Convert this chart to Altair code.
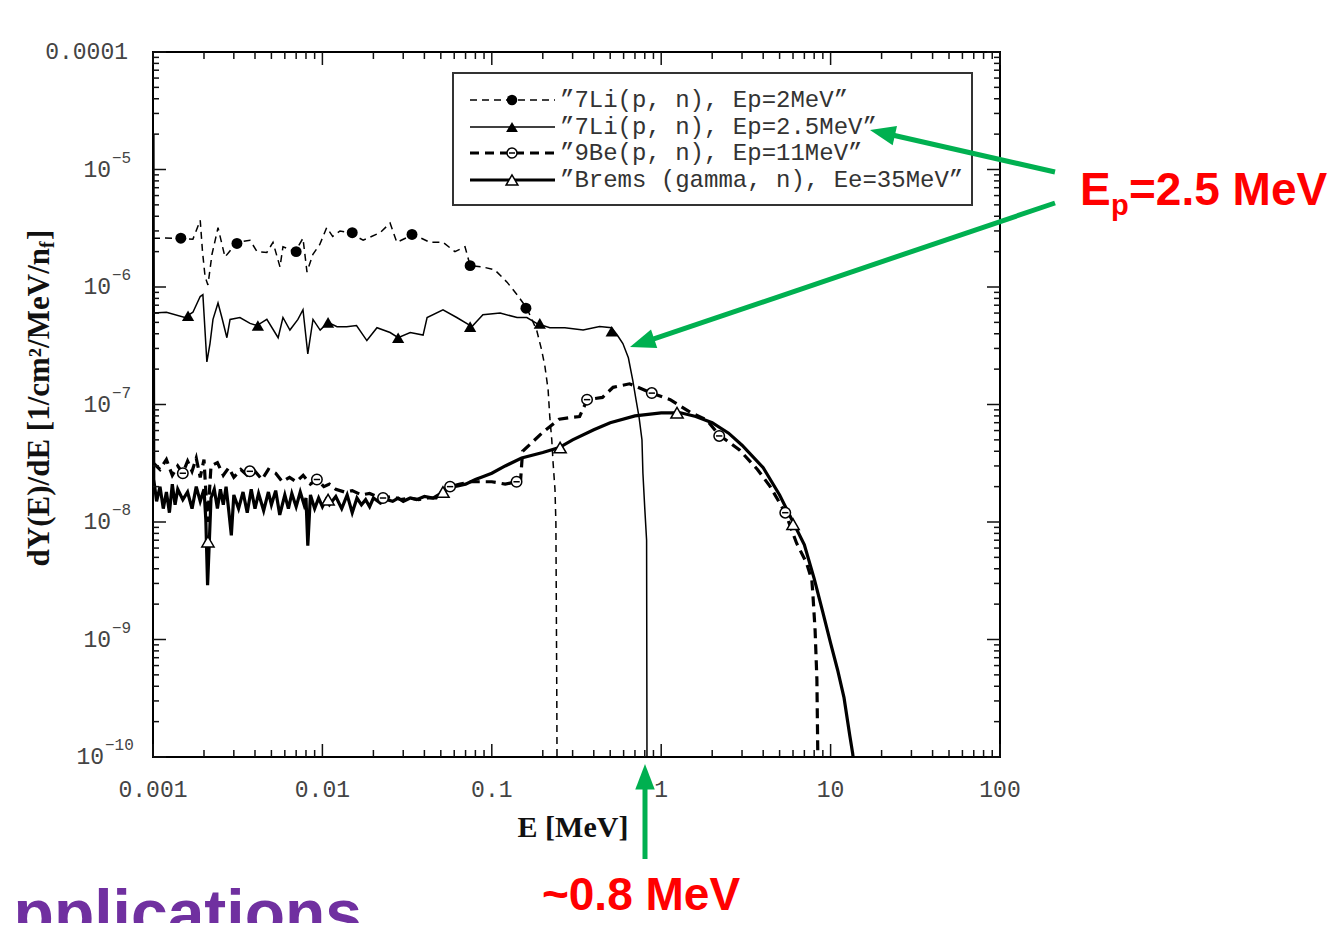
import altair as alt
import pandas as pd

# ---------------- data ----------------
series_names = [
    "”7Li(p, n), Ep=2MeV”",
    "”7Li(p, n), Ep=2.5MeV”",
    "”9Be(p, n), Ep=11MeV”",
    "”Brems (gamma, n), Ee=35MeV”",
]

li2 = [(0.001, 2.6e-6), (0.00118, 2.61e-6), (0.00144, 2.6e-6), (0.00172, 2.55e-6), (0.0019, 3.7e-6),
       (0.00196, 2.0e-6), (0.00203, 1.22e-6), (0.00211, 1.04e-6), (0.00223, 1.9e-6), (0.00242, 3.2e-6),
       (0.00266, 1.8e-6), (0.00313, 2.4e-6), (0.00374, 2.5e-6), (0.00411, 2.0e-6), (0.0047, 1.97e-6),
       (0.00511, 2.4e-6), (0.00562, 1.48e-6), (0.00585, 2.2e-6), (0.0069, 2.0e-6), (0.00768, 2.6e-6),
       (0.00811, 1.34e-6), (0.00879, 1.9e-6), (0.00965, 2.3e-6), (0.0106, 3.2e-6), (0.0115, 2.7e-6),
       (0.0127, 3.0e-6), (0.0145, 2.9e-6), (0.0174, 2.5e-6), (0.0219, 2.9e-6), (0.0251, 3.5e-6),
       (0.0275, 2.4e-6), (0.0344, 2.8e-6), (0.0431, 2.4e-6), (0.0515, 2.4e-6), (0.0606, 2.0e-6),
       (0.0695, 2.2e-6), (0.0745, 1.52e-6), (0.0886, 1.48e-6), (0.104, 1.4e-6), (0.123, 1.1e-6),
       (0.141, 8.6e-7), (0.161, 6.6e-7), (0.184, 4.3e-7), (0.197, 2.9e-7), (0.206, 2.1e-7),
       (0.215, 1.33e-7), (0.22, 7.8e-8), (0.226, 5.0e-8), (0.23, 3.2e-8), (0.236, 1.9e-8),
       (0.239, 9.8e-9), (0.242, 3e-10), (0.243, 5e-11)]
li2_markers = [(0.00146, 2.6e-6), (0.00313, 2.35e-6), (0.0070, 2.0e-6), (0.015, 2.9e-6),
               (0.0338, 2.8e-6), (0.0745, 1.52e-6), (0.159, 6.6e-7)]

li25 = [(0.001, 6.0e-7), (0.0012, 6.1e-7), (0.00154, 5.5e-7), (0.00172, 6.1e-7), (0.0019, 8.3e-7),
        (0.00197, 8.6e-7), (0.00208, 2.3e-7), (0.00217, 3.3e-7), (0.00226, 5.3e-7), (0.00242, 7.3e-7),
        (0.00255, 5.5e-7), (0.00273, 3.7e-7), (0.00285, 5.3e-7), (0.00326, 5.5e-7), (0.00374, 4.9e-7),
        (0.00411, 4.7e-7), (0.0047, 5.3e-7), (0.00548, 3.7e-7), (0.00585, 5.5e-7), (0.00643, 4.3e-7),
        (0.00717, 5.3e-7), (0.00768, 6.4e-7), (0.0082, 2.7e-7), (0.0088, 5.3e-7), (0.0097, 4.3e-7),
        (0.0108, 5.0e-7), (0.0122, 4.6e-7), (0.0139, 4.6e-7), (0.0159, 4.7e-7), (0.0183, 3.5e-7),
        (0.021, 4.5e-7), (0.0251, 4.1e-7), (0.028, 3.7e-7), (0.033, 4.1e-7), (0.0393, 3.9e-7),
        (0.0415, 5.5e-7), (0.0515, 6.4e-7), (0.0621, 5.5e-7), (0.0764, 4.6e-7), (0.0886, 5.8e-7),
        (0.112, 6.0e-7), (0.141, 5.5e-7), (0.161, 5.5e-7), (0.184, 4.9e-7), (0.22, 4.5e-7),
        (0.27, 4.5e-7), (0.346, 4.3e-7), (0.433, 4.6e-7), (0.51, 4.5e-7), (0.55, 3.9e-7),
        (0.594, 3.3e-7), (0.64, 2.5e-7), (0.68, 1.6e-7), (0.71, 1.1e-7), (0.74, 7.8e-8),
        (0.77, 5.0e-8), (0.78, 2.6e-8), (0.80, 1.3e-8), (0.82, 7e-9), (0.825, 5e-11)]
li25_markers = [(0.00161, 5.7e-7), (0.00416, 4.7e-7), (0.0108, 5.0e-7), (0.028, 3.7e-7),
                (0.0745, 4.6e-7), (0.192, 4.9e-7), (0.51, 4.2e-7)]

be9 = [(0.001, 3.2e-8), (0.0011, 2.8e-8), (0.0012, 3.4e-8), (0.0013, 2.5e-8), (0.0014, 3.0e-8),
       (0.0015, 2.6e-8), (0.0016, 3.3e-8), (0.0017, 2.7e-8), (0.0018, 3.5e-8), (0.0019, 2.4e-8),
       (0.002, 3.4e-8), (0.0021, 1.0e-8), (0.0022, 3.0e-8), (0.0024, 3.2e-8), (0.0026, 2.5e-8),
       (0.0028, 2.9e-8), (0.003, 2.4e-8), (0.0033, 2.8e-8), (0.0036, 2.5e-8), (0.004, 2.7e-8),
       (0.0044, 2.3e-8), (0.0048, 2.8e-8), (0.0053, 2.6e-8), (0.0058, 2.2e-8), (0.0064, 2.4e-8),
       (0.007, 2.2e-8), (0.0077, 2.5e-8), (0.0085, 2.1e-8), (0.0093, 2.3e-8), (0.0102, 2.0e-8),
       (0.011, 2.1e-8), (0.012, 1.9e-8), (0.0135, 1.8e-8), (0.015, 1.85e-8), (0.017, 1.7e-8),
       (0.019, 1.75e-8), (0.021, 1.65e-8), (0.023, 1.6e-8), (0.026, 1.65e-8), (0.029, 1.55e-8),
       (0.033, 1.6e-8), (0.037, 1.55e-8), (0.042, 1.6e-8), (0.047, 1.6e-8), (0.052, 1.9e-8),
       (0.057, 2.0e-8), (0.065, 2.1e-8), (0.074, 2.2e-8), (0.085, 2.2e-8), (0.1, 2.2e-8),
       (0.11, 2.15e-8), (0.12, 2.1e-8), (0.13, 2.15e-8), (0.14, 2.2e-8), (0.148, 2.3e-8),
       (0.152, 4.0e-8), (0.2, 5.8e-8), (0.25, 7.5e-8), (0.3, 7.8e-8), (0.33, 7.9e-8),
       (0.366, 1.1e-7), (0.45, 1.15e-7), (0.52, 1.4e-7), (0.65, 1.5e-7), (0.88, 1.25e-7),
       (1.13, 1.1e-7), (1.5, 8.5e-8), (1.85, 7.4e-8), (2.2, 5.5e-8), (2.9, 4.1e-8),
       (3.7, 2.8e-8), (4.4, 2.0e-8), (5.4, 1.2e-8), (6.3, 6.6e-9), (7.2, 4.5e-9),
       (7.75, 3.2e-9), (7.85, 2.5e-9), (8.1, 1.2e-9), (8.3, 4.6e-10), (8.4, 1.1e-10), (8.45, 5e-11)]
be9_markers = [(0.0015, 2.6e-8), (0.00373, 2.7e-8), (0.00928, 2.3e-8), (0.0228, 1.6e-8),
               (0.0567, 2.0e-8), (0.14, 2.2e-8), (0.365, 1.1e-7), (0.88, 1.25e-7),
               (2.2, 5.4e-8), (5.4, 1.2e-8)]

brems = [(0.001, 2.0e-5), (0.00101, 2.3e-8), (0.00105, 1.5e-8), (0.0011, 2.0e-8), (0.00115, 1.3e-8),
         (0.0012, 1.8e-8), (0.00125, 1.2e-8), (0.0013, 2.1e-8), (0.00135, 1.4e-8), (0.0014, 1.9e-8),
         (0.0015, 1.55e-8), (0.0016, 1.8e-8), (0.0017, 1.3e-8), (0.0018, 2.0e-8), (0.0019, 1.5e-8),
         (0.002, 1.9e-8), (0.00205, 1.05e-8), (0.0021, 2.9e-9), (0.00215, 6.8e-9), (0.0022, 1.6e-8),
         (0.0023, 1.9e-8), (0.0024, 1.3e-8), (0.0025, 1.9e-8), (0.0026, 1.4e-8), (0.0027, 2.0e-8),
         (0.0028, 1.25e-8), (0.0029, 7.7e-9), (0.003, 1.7e-8), (0.0032, 1.3e-8), (0.0034, 1.8e-8),
         (0.0036, 1.2e-8), (0.0038, 1.9e-8), (0.004, 1.3e-8), (0.0042, 1.75e-8), (0.0045, 1.25e-8),
         (0.0048, 1.8e-8), (0.005, 1.4e-8), (0.0053, 1.85e-8), (0.0056, 1.15e-8), (0.006, 1.7e-8),
         (0.0063, 1.3e-8), (0.0066, 1.75e-8), (0.007, 1.35e-8), (0.0074, 1.8e-8), (0.0078, 1.4e-8),
         (0.008, 1.6e-8), (0.0082, 6.3e-9), (0.0085, 1.7e-8), (0.009, 1.3e-8), (0.0095, 1.6e-8),
         (0.01, 1.35e-8), (0.0105, 1.55e-8), (0.011, 1.4e-8), (0.012, 1.65e-8), (0.013, 1.3e-8),
         (0.014, 1.7e-8), (0.015, 1.2e-8), (0.016, 1.6e-8), (0.017, 1.4e-8), (0.018, 1.55e-8),
         (0.019, 1.35e-8), (0.02, 1.6e-8), (0.022, 1.45e-8), (0.024, 1.55e-8), (0.026, 1.5e-8),
         (0.028, 1.6e-8), (0.03, 1.5e-8), (0.033, 1.6e-8), (0.036, 1.55e-8), (0.04, 1.65e-8),
         (0.045, 1.6e-8), (0.05, 1.75e-8), (0.055, 1.9e-8), (0.06, 2.0e-8), (0.07, 2.1e-8),
         (0.08, 2.3e-8), (0.09, 2.45e-8), (0.1, 2.6e-8), (0.12, 3.0e-8), (0.15, 3.5e-8),
         (0.2, 3.9e-8), (0.25, 4.3e-8), (0.3, 5.0e-8), (0.4, 6.1e-8), (0.5, 7.0e-8),
         (0.7, 8.0e-8), (1.0, 8.5e-8), (1.3, 8.5e-8), (1.6, 7.9e-8), (2.0, 7.0e-8),
         (2.5, 5.7e-8), (3.0, 4.5e-8), (4.0, 2.9e-8), (5.0, 1.7e-8), (6.0, 1.0e-8),
         (7.0, 6.4e-9), (8.0, 3.3e-9), (9.0, 1.7e-9), (10.0, 9.3e-10), (11.0, 5.5e-10),
         (12.0, 3.2e-10), (13.0, 1.5e-10), (13.5, 1.07e-10), (14.0, 7e-11)]
brems_markers = [(0.00211, 6.8e-9), (0.0108, 1.55e-8), (0.0515, 1.8e-8), (0.253, 4.3e-8),
                 (1.24, 8.5e-8), (6.0, 9.6e-9)]

x_major = [0.001, 0.01, 0.1, 1, 10, 100]
x_major_labels = ["0.001", "0.01", "0.1", "1", "10", "100"]
minor_mult = [2, 3, 4, 5, 6, 7, 8, 9]
y_exponents = [-5, -6, -7, -8, -9, -10]
y_sup_labels = ["−5", "−6", "−7", "−8", "−9", "−10"]

# ---------------- layout ----------------
W, H = 847, 705
PAD = {"left": 145, "top": 44, "right": 328, "bottom": 166}
INK = "#111111"
LBL = "#444444"
RED = "#FF0000"
GREEN = "#00B050"
PURPLE = "#7030A0"
MONO = "Liberation Mono"
SERIF = "Liberation Serif"
SANS = "Liberation Sans"

xs = alt.Scale(type="log", domain=[0.001, 100], nice=False)
ys = alt.Scale(type="log", domain=[1e-10, 1e-4], nice=False)
one = pd.DataFrame({"k": [0]})


def df(pairs):
    return pd.DataFrame(pairs, columns=["E", "V"])


def X():
    return alt.X("E:Q", scale=xs, axis=None)


def Y():
    return alt.Y("V:Q", scale=ys, axis=None)


layers = []

# curves
styles = [
    (li2, 1.5, [7, 5]),
    (li25, 1.5, None),
    (be9, 3.2, [10, 6]),
    (brems, 3.2, None),
]
for pairs, w, dash in styles:
    kw = dict(color="black", strokeWidth=w, clip=True)
    if dash:
        kw["strokeDash"] = dash
    layers.append(alt.Chart(df(pairs)).mark_line(**kw).encode(x=X(), y=Y()))

# markers
layers.append(alt.Chart(df(li2_markers)).mark_point(shape="circle", filled=True, color="black",
                                                    size=120, opacity=1).encode(x=X(), y=Y()))
layers.append(alt.Chart(df(li25_markers)).mark_point(shape="triangle-up", filled=True, color="black",
                                                     size=150, opacity=1).encode(x=X(), y=Y()))
layers.append(alt.Chart(df(be9_markers)).mark_point(shape="circle", filled=True, fill="white",
                                                    stroke="black", strokeWidth=1.5, size=110,
                                                    opacity=1).encode(x=X(), y=Y()))
layers.append(alt.Chart(df(be9_markers)).mark_point(shape="M-0.6,0L0.6,0", stroke="black",
                                                    strokeWidth=1.5, size=110, opacity=1).encode(x=X(), y=Y()))
layers.append(alt.Chart(df(brems_markers)).mark_point(shape="triangle-up", filled=True, fill="white",
                                                      stroke="black", strokeWidth=1.5, size=150,
                                                      opacity=1).encode(x=X(), y=Y()))

# ticks (inward, on all four sides)
x_minor = [m * d for d in x_major[:-1] for m in minor_mult]
y_major = [10.0 ** e for e in [-4] + y_exponents]
y_minor = [m * 10.0 ** e for e in [-10, -9, -8, -7, -6, -5] for m in minor_mult]

for vals, ln in ((x_major, 13), (x_minor, 7)):
    d = pd.DataFrame({"E": vals})
    layers.append(alt.Chart(d).mark_rule(color=INK, strokeWidth=1.5).encode(
        x=X(), y=alt.value(H), y2=alt.value(H - ln)))
    layers.append(alt.Chart(d).mark_rule(color=INK, strokeWidth=1.5).encode(
        x=X(), y=alt.value(0), y2=alt.value(ln)))
for vals, ln in ((y_major, 13), (y_minor, 6)):
    d = pd.DataFrame({"V": vals})
    layers.append(alt.Chart(d).mark_rule(color=INK, strokeWidth=1.5).encode(
        y=Y(), x=alt.value(0), x2=alt.value(ln)))
    layers.append(alt.Chart(d).mark_rule(color=INK, strokeWidth=1.5).encode(
        y=Y(), x=alt.value(W), x2=alt.value(W - ln)))

# tick labels
xl = pd.DataFrame({"E": x_major, "t": x_major_labels})
layers.append(alt.Chart(xl).mark_text(font=MONO, fontSize=23, color=LBL, baseline="middle").encode(
    x=X(), y=alt.value(738), text="t:N"))
layers.append(alt.Chart(pd.DataFrame({"V": [1e-4], "t": ["0.0001"]})).mark_text(
    font=MONO, fontSize=23, color=LBL, align="right", baseline="middle").encode(
    y=Y(), x=alt.value(-25), text="t:N"))
yl = pd.DataFrame({"V": [10.0 ** e for e in y_exponents], "s": y_sup_labels,
                   "b": ["10"] * len(y_exponents)})
yl_short = yl[yl["s"].str.len() == 2]
yl_long = yl[yl["s"].str.len() == 3]
for part, bx, sx in ((yl_short, -42, -41), (yl_long, -49, -48)):
    layers.append(alt.Chart(part).mark_text(font=MONO, fontSize=23, color=LBL, align="right",
                                            baseline="middle").encode(y=Y(), x=alt.value(bx), text="b:N"))
    layers.append(alt.Chart(part).mark_text(font=MONO, fontSize=16, color=LBL, align="left",
                                            baseline="middle", dy=-12).encode(y=Y(), x=alt.value(sx), text="s:N"))

# axis titles
layers.append(alt.Chart(one).mark_text(text="E [MeV]", font=SERIF, fontWeight="bold", fontSize=30,
                                       color=INK, baseline="middle").encode(x=alt.value(420), y=alt.value(776)))
layers.append(alt.Chart(one).mark_text(text="dY(E)/dE [1/cm²/MeV/n", font=SERIF, fontWeight="bold",
                                       fontSize=31, color=INK, angle=270, align="right",
                                       baseline="middle").encode(x=alt.value(-113), y=alt.value(196)))
layers.append(alt.Chart(one).mark_text(text="f", font=SERIF, fontWeight="bold", fontSize=20,
                                       color=INK, angle=270, align="left",
                                       baseline="middle").encode(x=alt.value(-105), y=alt.value(196)))
layers.append(alt.Chart(one).mark_text(text="]", font=SERIF, fontWeight="bold", fontSize=31,
                                       color=INK, angle=270, align="left",
                                       baseline="middle").encode(x=alt.value(-113), y=alt.value(188)))

# legend box
layers.append(alt.Chart(one).mark_rect(fill="white", stroke="#333333", strokeWidth=2).encode(
    x=alt.value(300), x2=alt.value(819), y=alt.value(21), y2=alt.value(153)))
row_y = [48, 75, 101, 128]
leg_styles = [
    (1.5, [7, 5], dict(shape="circle", filled=True, color="black", size=110)),
    (1.5, None, dict(shape="triangle-up", filled=True, color="black", size=140)),
    (3.2, [9, 6], dict(shape="circle", filled=True, fill="white", stroke="black", strokeWidth=1.5, size=100)),
    (3.2, None, dict(shape="triangle-up", filled=True, fill="white", stroke="black", strokeWidth=1.5, size=140)),
]
for ry, name, (w, dash, mk) in zip(row_y, series_names, leg_styles):
    kw = dict(color="black", strokeWidth=w)
    if dash:
        kw["strokeDash"] = dash
    layers.append(alt.Chart(one).mark_rule(**kw).encode(
        x=alt.value(317), x2=alt.value(402), y=alt.value(ry)))
    layers.append(alt.Chart(one).mark_point(opacity=1, **mk).encode(x=alt.value(359), y=alt.value(ry)))
    layers.append(alt.Chart(one).mark_text(text=name, font=MONO, fontSize=24, color="#333333",
                                           align="left", baseline="middle").encode(
        x=alt.value(407), y=alt.value(ry)))
layers.append(alt.Chart(one).mark_point(shape="M-0.6,0L0.6,0", stroke="black", strokeWidth=1.5,
                                        size=100, opacity=1).encode(x=alt.value(359), y=alt.value(101)))

# annotations: arrows
HEAD = "M0,-1L0.65,0.7L-0.65,0.7Z"
arrows = [((902, 120), (731.6, 81.3), 282.8),
          ((902, 151), (491.2, 290.2), 251.3),
          ((492, 807), (492, 727), 0)]
for (x1, y1), (x2, y2), ang in arrows:
    layers.append(alt.Chart(one).mark_rule(color=GREEN, strokeWidth=5).encode(
        x=alt.value(x1), y=alt.value(y1), x2=alt.value(x2), y2=alt.value(y2)))
    layers.append(alt.Chart(one).mark_point(shape=HEAD, filled=True, color=GREEN, size=900,
                                            opacity=1, angle=ang).encode(x=alt.value(x2), y=alt.value(y2)))

# annotations: texts
layers.append(alt.Chart(one).mark_text(text="E", font=SANS, fontWeight="bold", fontSize=46, color=RED,
                                       align="left", baseline="alphabetic").encode(x=alt.value(927), y=alt.value(153)))
layers.append(alt.Chart(one).mark_text(text="p", font=SANS, fontWeight="bold", fontSize=29, color=RED,
                                       align="left", baseline="alphabetic").encode(x=alt.value(958), y=alt.value(163)))
layers.append(alt.Chart(one).mark_text(text="=2.5 MeV", font=SANS, fontWeight="bold", fontSize=46, color=RED,
                                       align="left", baseline="alphabetic").encode(x=alt.value(976), y=alt.value(153)))
layers.append(alt.Chart(one).mark_text(text="~0.8 MeV", font=SANS, fontWeight="bold", fontSize=46, color=RED,
                                       align="center", baseline="alphabetic").encode(x=alt.value(488), y=alt.value(858)))
layers.append(alt.Chart(one).mark_text(text="Applications", font=SANS, fontWeight="bold", fontSize=66,
                                       color=PURPLE, align="right", baseline="alphabetic").encode(
    x=alt.value(209), y=alt.value(884)))

chart = alt.layer(*layers).properties(
    width=W, height=H, padding=PAD, autosize=alt.AutoSizeParams(type="none"),
    background="white",
).configure_view(stroke="black", strokeWidth=2)

chart.save("out.html", embed_options={"renderer": "svg", "actions": False})
